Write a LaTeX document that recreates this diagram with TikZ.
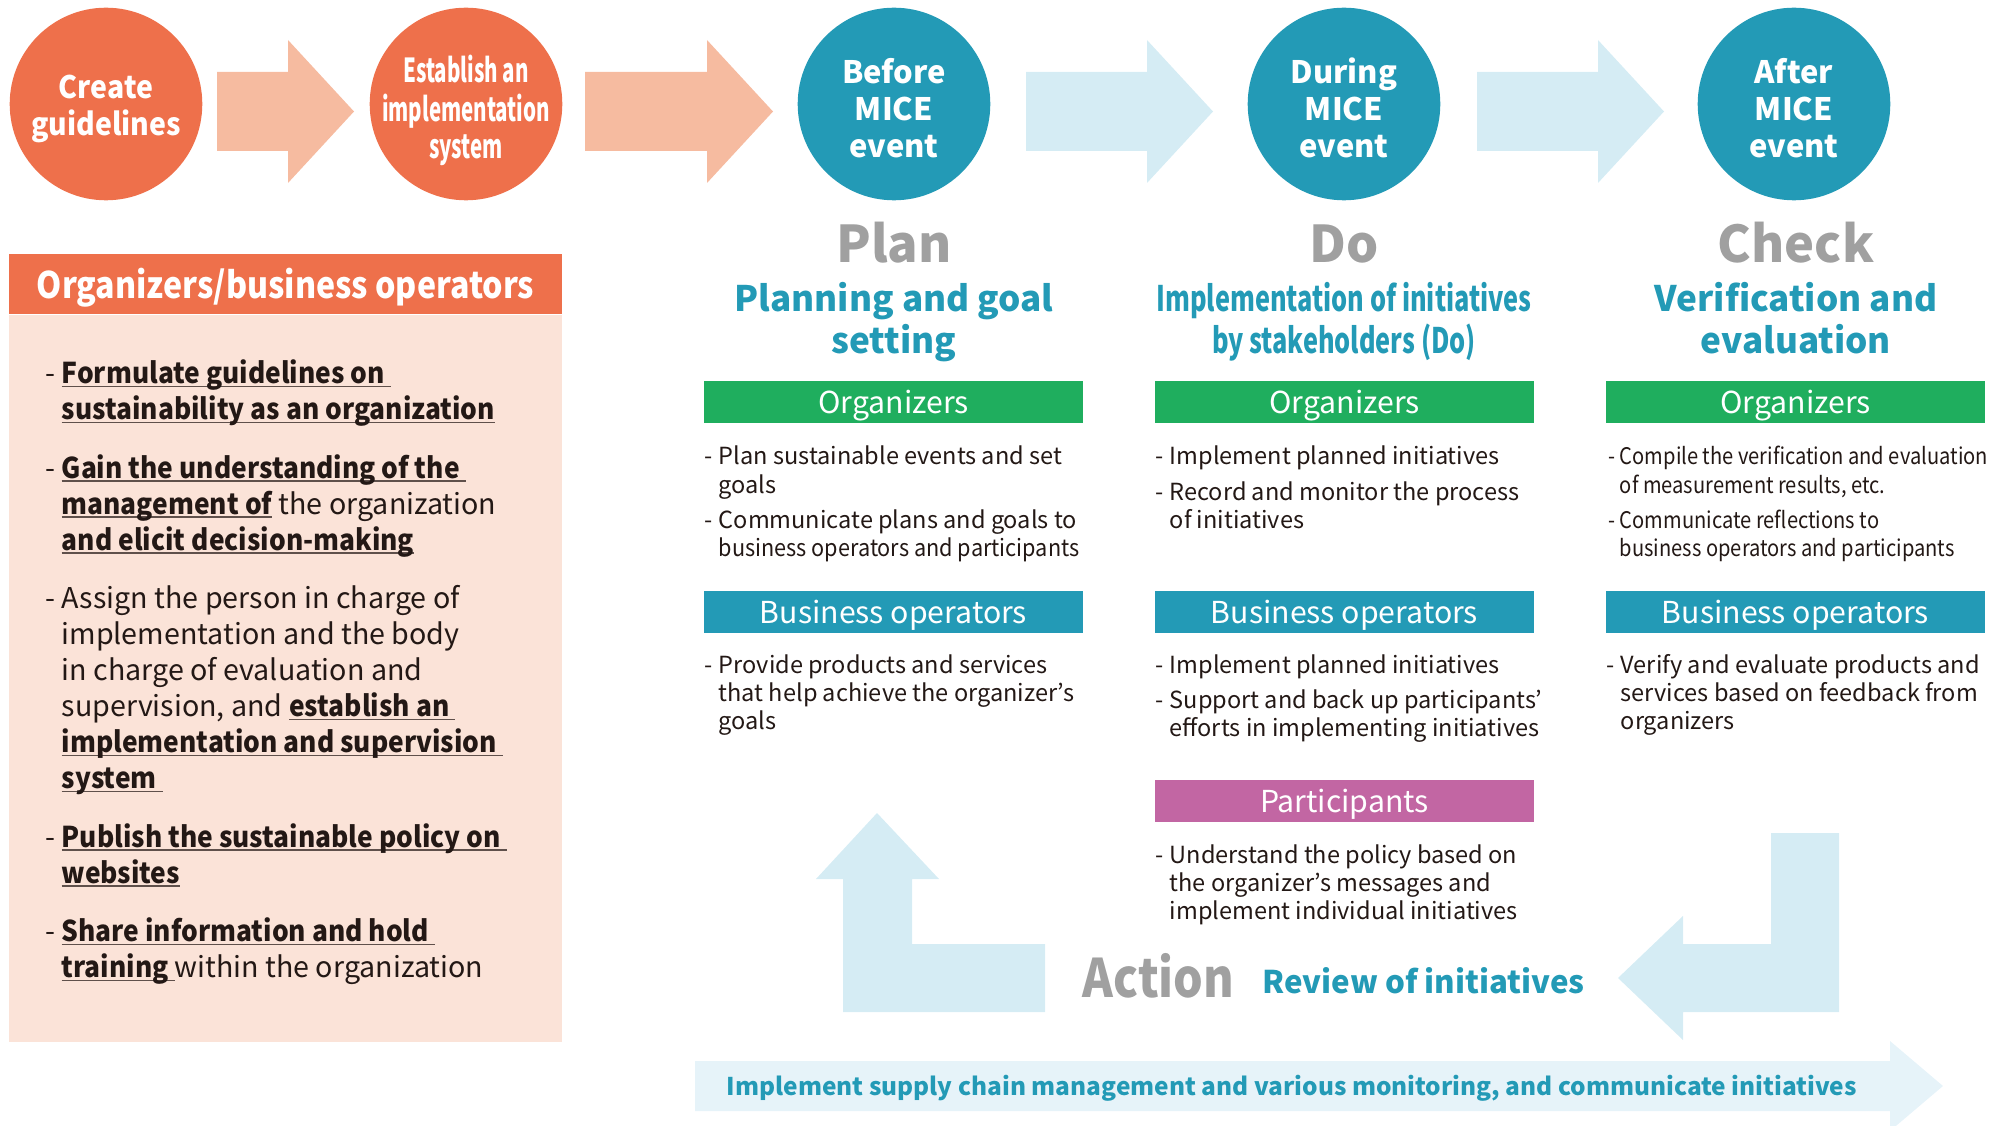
\documentclass[tikz,border=0pt]{standalone}
\usepackage{fontspec}
\setmainfont{Noto Sans CJK JP}
\newfontfamily\semifont[FakeStretch=0.92]{Noto Sans CJK JP}
\newfontfamily\condfont[FakeStretch=0.88]{Noto Sans CJK JP}
\newfontfamily\narrowfont[FakeStretch=0.72]{Noto Sans CJK JP}
\newfontfamily\tightfont[FakeStretch=0.62]{Noto Sans CJK JP}
\usetikzlibrary{positioning,calc}

\definecolor{miceorange}{RGB}{238,112,75}
\definecolor{softorange}{RGB}{246,187,160}
\definecolor{peach}{RGB}{251,227,216}
\definecolor{miceteal}{RGB}{35,154,182}
\definecolor{softblue}{RGB}{213,236,244}
\definecolor{paleblue}{RGB}{230,243,249}
\definecolor{orggreen}{RGB}{31,174,94}
\definecolor{partpink}{RGB}{194,102,163}
\definecolor{phasegrey}{RGB}{160,160,160}
\definecolor{ink}{RGB}{35,24,21}
\definecolor{ulgrey}{RGB}{95,80,75}

\newcommand{\stack}[1]{\begin{tabular}[t]{@{}c@{}}#1\end{tabular}}
\newcommand{\dashlist}[1]{\begin{tabular}[t]{@{}l@{}l@{}}#1\end{tabular}}
\newcommand{\dashmark}[1][4pt]{\makebox[#1][l]{-}}
\newcommand{\ulbold}[1]{\setbox0\hbox{\semifont\bfseries #1}\rlap{\color{ulgrey}\rule[-0.9pt]{\wd0}{0.4pt}}\box0\relax}

\tikzstyle{stage} = [circle, minimum size=1.926cm, inner sep=0pt]
\tikzstyle{stagetext} = [inner sep=0pt, text=white, font=\fontsize{8.8}{10.5}\selectfont\bfseries]
\tikzstyle{bar} = [rectangle, minimum width=3.79cm, minimum height=0.42cm, inner sep=0pt, text height=6.3pt, text depth=0pt, text=white, font=\fontsize{8.6}{9}\selectfont]
\tikzstyle{items} = [anchor=base west, inner sep=0pt, text=ink, font=\fontsize{6.7}{7.97}\selectfont]
\tikzstyle{phase} = [anchor=base, inner sep=0pt, text=phasegrey, font=\fontsize{14.4}{16}\selectfont\bfseries]
\tikzstyle{goal} = [anchor=base, inner sep=0pt, text=miceteal, font=\fontsize{10}{11.6}\selectfont\bfseries]

\begin{document}
\begin{tikzpicture}[x=1cm, y=-1cm]
\useasboundingbox (0,0) rectangle (20.02,11.26);
\clip (0,0) rectangle (20.02,11.26);

% flow of stages
\foreach \a/\b/\col in {2.17/2.88/softorange, 5.85/7.07/softorange, 10.26/11.47/softblue, 14.77/15.98/softblue}
  \fill[\col] (\a,0.72) -- (\b,0.72) -- (\b,0.40) -- (\b+0.66,1.115) -- (\b,1.83) -- (\b,1.51) -- (\a,1.51) -- cycle;

\node[stage, fill=miceorange] (guide) at (1.06,1.04) {};
\node[stage, fill=miceorange] (setup) at (4.66,1.04) {};
\node[stage, fill=miceteal] (before) at (8.94,1.04) {};
\node[stage, fill=miceteal] (during) at (13.44,1.04) {};
\node[stage, fill=miceteal] (after) at (17.94,1.04) {};
\node[stagetext, font=\semifont\fontsize{8.8}{10.5}\selectfont\bfseries] (guidetxt) at ([yshift=-0.055cm]guide.center) {\stack{Create\\guidelines}};
\node[stagetext, font=\tightfont\fontsize{9.4}{10.5}\selectfont\bfseries] (setuptxt) at ([yshift=-0.085cm]setup.center) {\stack{Establish an\\implementation\\system}};
\node[stagetext] (beforetxt) at ([yshift=-0.095cm]before.center) {\stack{Before\\MICE\\event}};
\node[stagetext] (duringtxt) at ([yshift=-0.095cm]during.center) {\stack{During\\MICE\\event}};
\node[stagetext] (aftertxt) at ([yshift=-0.095cm]after.center) {\stack{After\\MICE\\event}};

% organizers / business operators panel
\node[rectangle, fill=miceorange, minimum width=5.53cm, minimum height=0.6cm, inner sep=0pt] (orghead) at (2.855,2.84) {};
\node[rectangle, fill=peach, minimum width=5.53cm, minimum height=7.27cm, inner sep=0pt, below=0pt of orghead] (orgbody) {};
\node[anchor=base, inner sep=0pt, text=white, font=\condfont\fontsize{10.4}{13}\selectfont\bfseries] (orgtitle) at (2.855,2.99) {Organizers/business operators};
\node[items, font=\fontsize{8.15}{10.24}\selectfont] (orglist) at (0.45,3.84) {\dashlist{
  \dashmark[4.55pt] & \ulbold{Formulate guidelines on\ }\\
  & \ulbold{sustainability as an organization}\\[6.4pt]
  \dashmark[4.55pt] & \ulbold{Gain the understanding of the\ }\\
  & \ulbold{management of} the organization\\
  & \ulbold{and elicit decision-making}\\[6.4pt]
  \dashmark[4.55pt] & Assign the person in charge of\\
  & implementation and the body\\
  & in charge of evaluation and\\
  & supervision, and \ulbold{establish an\ }\\
  & \ulbold{implementation and supervision\ }\\
  & \ulbold{system\ }\\[6.4pt]
  \dashmark[4.55pt] & \ulbold{Publish the sustainable policy on\ }\\
  & \ulbold{websites}\\[6.4pt]
  \dashmark[4.55pt] & \ulbold{Share information and hold\ }\\
  & \ulbold{training\ }within the organization}};

% PDCA columns
\node[phase] (plan) at (8.94,2.63) {Plan};
\node[phase] (do) at (13.44,2.63) {Do};
\node[phase] (check) at (17.96,2.63) {Check};
\node[goal] (plangoal) at (8.94,3.12) {\stack{Planning and goal\\setting}};
\node[goal, font=\narrowfont\fontsize{10}{11.6}\selectfont\bfseries] (dogoal) at (13.44,3.12) {\stack{Implementation of initiatives\\by stakeholders (Do)}};
\node[goal] (checkgoal) at (17.96,3.12) {\stack{Verification and\\evaluation}};

\node[bar, fill=orggreen] (planorg) at (8.935,4.02) {Organizers};
\node[bar, fill=orggreen] (doorg) at (13.445,4.02) {Organizers};
\node[bar, fill=orggreen] (checkorg) at (17.955,4.02) {Organizers};
\node[bar, fill=miceteal] (planbus) at (8.935,6.12) {Business operators};
\node[bar, fill=miceteal] (dobus) at (13.445,6.12) {Business operators};
\node[bar, fill=miceteal] (checkbus) at (17.955,6.12) {Business operators};
\node[bar, fill=partpink] (dopart) at (13.445,8.01) {Participants};

\node[items] (planorgtxt) at (7.04,4.65) {\dashlist{
  \dashmark & Plan sustainable events and set\\
  & goals\\[2.2pt]
  \dashmark & Communicate plans and goals to\\
  & {\semifont business operators and participants}}};
\node[items] (doorgtxt) at (11.55,4.65) {\dashlist{
  \dashmark & Implement planned initiatives\\[2.2pt]
  \dashmark & Record and monitor the process\\
  & of initiatives}};
\node[items, font=\condfont\fontsize{6.5}{7.97}\selectfont] (checkorgtxt) at (16.08,4.65) {\dashlist{
  \dashmark[3.2pt] & Compile the verification and evaluation\\
  & of measurement results, etc.\\[2.2pt]
  \dashmark[3.2pt] & Communicate reflections to\\
  & business operators and participants}};
\node[items] (planbustxt) at (7.04,6.73) {\dashlist{
  \dashmark & Provide products and services\\
  & that help achieve the organizer’s\\
  & goals}};
\node[items] (dobustxt) at (11.55,6.73) {\dashlist{
  \dashmark & Implement planned initiatives\\[2.2pt]
  \dashmark & Support and back up participants’\\
  & efforts in implementing initiatives}};
\node[items] (checkbustxt) at (16.06,6.73) {\dashlist{
  \dashmark & Verify and evaluate products and\\
  & services based on feedback from\\
  & organizers}};
\node[items] (doparttxt) at (11.55,8.63) {\dashlist{
  \dashmark & Understand the policy based on\\
  & the organizer’s messages and\\
  & implement individual initiatives}};

% action loop
\fill[softblue] (8.77,8.13) -- (9.39,8.79) -- (9.12,8.79) -- (9.12,9.44) -- (10.45,9.44) -- (10.45,10.12) -- (8.43,10.12) -- (8.43,8.79) -- (8.16,8.79) -- cycle;
\fill[softblue] (17.71,8.33) -- (18.39,8.33) -- (18.39,10.12) -- (16.83,10.12) -- (16.83,10.40) -- (16.18,9.78) -- (16.83,9.16) -- (16.83,9.44) -- (17.71,9.44) -- cycle;
\node[anchor=base west, inner sep=0pt, text=phasegrey, font=\condfont\fontsize{15.1}{17}\selectfont\bfseries] (action) at (10.82,9.97) {Action};
\node[anchor=base west, inner sep=0pt, text=miceteal, font=\fontsize{8.9}{10}\selectfont\bfseries] (review) at (12.62,9.93) {Review of initiatives};

% supply chain arrow
\fill[paleblue] (6.95,10.61) -- (18.90,10.61) -- (18.90,10.41) -- (19.43,10.86) -- (18.90,11.31) -- (18.90,11.11) -- (6.95,11.11) -- cycle;
\node[anchor=base west, inner sep=0pt, text=miceteal, font=\fontsize{6.95}{8}\selectfont\bfseries] (supply) at (7.26,10.95) {Implement supply chain management and various monitoring, and communicate initiatives};
\end{tikzpicture}
\end{document}
